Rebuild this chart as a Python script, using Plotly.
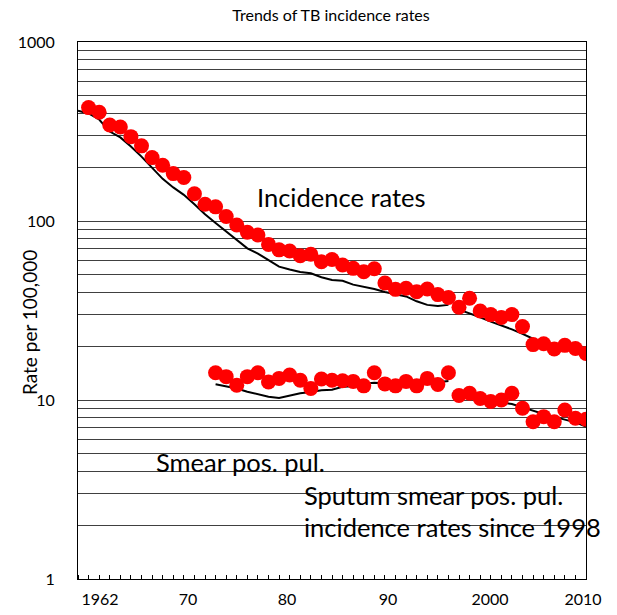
import plotly.graph_objects as go

# ---- data ----
inc_years = list(range(1963, 2011))
inc_rate = [430, 405, 344, 335, 296, 263, 226, 205, 184, 175,
            142, 124, 120, 106, 95, 86.5, 83.5, 74, 69, 68,
            64, 65.2, 59.2, 61, 56.8, 54.4, 52.1, 54.1, 45, 41.5,
            42.1, 40.3, 41.7, 38.8, 37.4, 33, 37, 31.4, 30, 28.9,
            30, 25.7, 20.4, 20.6, 19.3, 20.2, 19.4, 18.2]

smear_years = list(range(1975, 2011))
smear_rate = [14.2, 13.5, 12.1, 13.5, 14.2, 12.6, 13.2, 13.8, 12.9, 11.6,
              13.1, 12.9, 12.8, 12.7, 12.0, 14.2, 12.3, 12.0, 12.7, 12.0,
              13.2, 12.2, 14.2, 10.6, 10.9, 10.2, 9.8, 10.0, 10.9, 9.0,
              7.56, 8.07, 7.56, 8.8, 7.9, 7.8]

line_inc_years_a = list(range(1962, 1998))
line_inc_a = [413, 399, 369, 316, 293, 261, 229, 199, 172, 154,
              140, 124, 109, 97.5, 87.4, 78.6, 70.4, 65.8, 60.3, 55.6,
              53.6, 51.9, 51.0, 48.5, 46.8, 46.3, 44.1, 42.9, 41.7, 40.1,
              39.1, 37.9, 35.6, 34.0, 33.5, 34.0]
line_inc_years_b = list(range(1998, 2011))
line_inc_b = [32, 30.5, 29, 27.4, 26.2, 24.8, 23.4, 22.0, 21.0, 20.2, 19.6, 19.0, 18.3]

line_smear_years_a = list(range(1975, 1998))
line_smear_a = [12.24, 11.93, 11.6, 11.13, 10.73, 10.43, 10.26, 10.6, 10.9, 11.08,
                11.33, 11.4, 11.87, 11.93, 12.33, 12.49, 12.4, 12.3, 12.18, 12.18,
                12.35, 12.5, 12.76]
line_smear_years_b = list(range(1998, 2011))
line_smear_b = [10.6, 10.4, 10.1, 9.9, 9.75, 9.5, 9.1, 8.7, 8.35, 8.05, 7.8, 7.5, 7.1]

x_tick_text = ["1962", "70", "80", "90", "2000", "2010"]
y_tick_vals = [1, 10, 100, 1000]

FONT = "Lato, 'Open Sans', sans-serif"

fig = go.Figure()
for xs, ys in [(line_inc_years_a, line_inc_a), (line_inc_years_b, line_inc_b),
               (line_smear_years_a, line_smear_a), (line_smear_years_b, line_smear_b)]:
    fig.add_trace(go.Scatter(x=xs, y=ys, mode="lines",
                             line=dict(color="black", width=2), showlegend=False,
                             hoverinfo="skip"))
for xs, ys in [(inc_years, inc_rate), (smear_years, smear_rate)]:
    fig.add_trace(go.Scatter(x=xs, y=ys, mode="markers",
                             marker=dict(color="#ff0000", size=15, line=dict(width=0)),
                             showlegend=False))

# minor grid values for the log axis
grid_vals = [m * 10 ** e for e in range(0, 3) for m in range(1, 10)] + [1000]
grid_text = [str(v) if v in y_tick_vals else "" for v in grid_vals]

fig.update_layout(
    width=617, height=615,
    margin=dict(l=78, r=31, t=42, b=36, autoexpand=False),
    paper_bgcolor="white", plot_bgcolor="white",
    font=dict(family=FONT, color="black"),
    title=dict(text="Trends of TB incidence rates", x=331 / 617, xanchor="center",
               y=1 - 15 / 615, yanchor="middle", font=dict(size=16, family=FONT, color="black")),
    xaxis=dict(range=[1962, 2010], showgrid=False, zeroline=False, automargin=False,
               showline=True, linecolor="black", linewidth=1, mirror=True,
               tickvals=[1964.08, 1972.39, 1981.75, 1991.29, 2000.93, 2009.72],
               ticktext=x_tick_text, ticks="", tickfont=dict(size=16),
               ticklabelstandoff=6,
               minor=dict(ticks="inside", ticklen=4, dtick=1, tick0=1962,
                          tickcolor="black", showgrid=False)),
    yaxis=dict(type="log", range=[0, 3], showgrid=True, gridcolor="#404040", gridwidth=1,
               tickvals=grid_vals, ticktext=grid_text, ticks="", tickfont=dict(size=16),
               showline=True, linecolor="black", linewidth=1, mirror=True, zeroline=False,
               automargin=False, ticklabelstandoff=19),
    annotations=[
        dict(text="Rate per 100,000", textangle=-90, xref="paper", yref="paper",
             x=(29 - 78) / 508, y=1 - (323 - 42) / 537, showarrow=False,
             font=dict(size=19), xanchor="center", yanchor="middle"),
        dict(text="Incidence rates", xref="paper", yref="paper",
             x=(255 - 78) / 508, y=1 - (197 - 42) / 537, showarrow=False,
             font=dict(size=25.5), xanchor="left", yanchor="middle"),
        dict(text="Smear pos. pul.", xref="paper", yref="paper",
             x=(154 - 78) / 508, y=1 - (462 - 42) / 537, showarrow=False,
             font=dict(size=25.5), xanchor="left", yanchor="middle"),
        dict(text="Sputum smear pos. pul.", xref="paper", yref="paper",
             x=(302 - 78) / 508, y=1 - (495 - 42) / 537, showarrow=False,
             font=dict(size=25.5), xanchor="left", yanchor="middle"),
        dict(text="incidence rates since 1998", xref="paper", yref="paper",
             x=(302 - 78) / 508, y=1 - (527 - 42) / 537, showarrow=False,
             font=dict(size=25.5), xanchor="left", yanchor="middle"),
    ],
)

fig.write_html("out.html", config={"displayModeBar": False},
               post_script="document.body.style.margin='0px';")
